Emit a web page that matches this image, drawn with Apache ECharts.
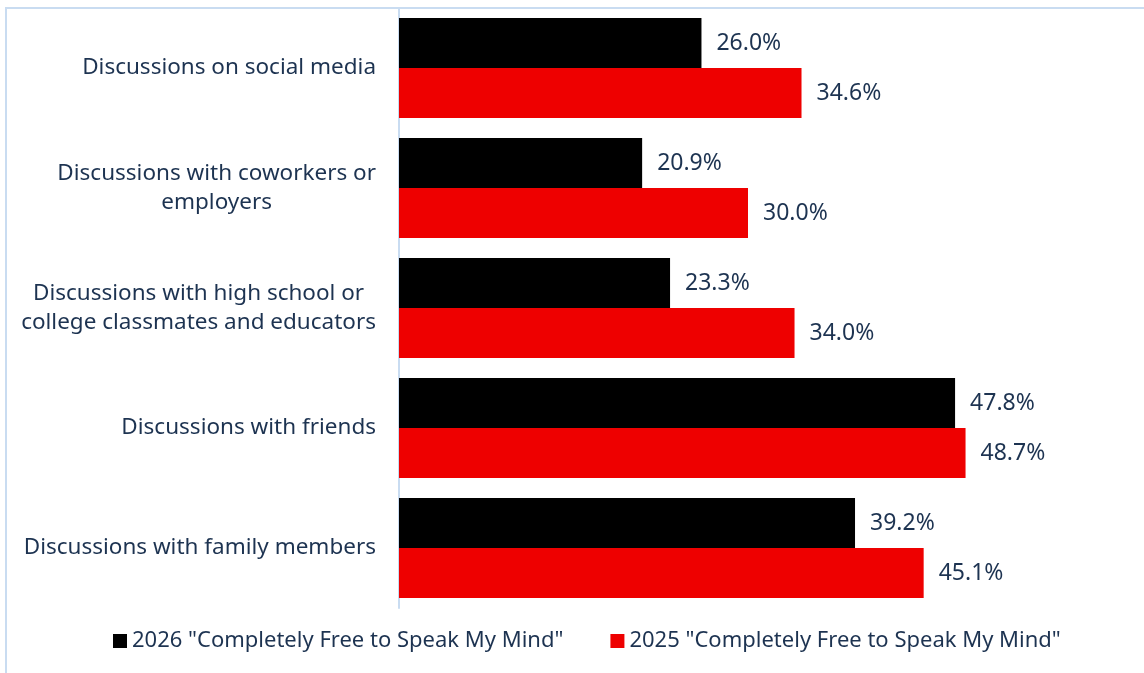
<!DOCTYPE html>
<html>
<head>
<meta charset="utf-8">
<title>Completely Free to Speak My Mind</title>
<script src="https://cdn.jsdelivr.net/npm/echarts@6/dist/echarts.min.js"></script>
<style>
  html, body { margin: 0; padding: 0; background: #ffffff; }
  #chart { width: 1144px; height: 673px; }
</style>
</head>
<body>
<div id="chart"></div>
<script>
// Settings where people feel completely free to speak their mind (percent)
const categories = [
  'Discussions on social media',
  'Discussions with coworkers or\nemployers',
  'Discussions with high school or\ncollege classmates and educators',
  'Discussions with friends',
  'Discussions with family members'
];
const seriesNames = [
  '2026 "Completely Free to Speak My Mind"',
  '2025 "Completely Free to Speak My Mind"'
];
const values2026 = [26.0, 20.9, 23.3, 47.8, 39.2];
const values2025 = [34.6, 30.0, 34.0, 48.7, 45.1];

const textColor = '#1d3351';
const fontFamily = '"Noto Sans", "Open Sans", sans-serif';

const chart = echarts.init(document.getElementById('chart'), null, { renderer: 'canvas' });

function barSeries(name, data, color) {
  return {
    name: name,
    type: 'bar',
    data: data,
    barWidth: 50,
    barGap: '0%',
    itemStyle: { color: color },
    label: {
      show: true,
      position: 'right',
      distance: 15,
      color: textColor,
      fontFamily: fontFamily,
      fontSize: 23,
      formatter: p => p.value.toFixed(1) + '%'
    }
  };
}

chart.setOption({
  animation: false,
  backgroundColor: '#ffffff',
  textStyle: { fontFamily: fontFamily },
  graphic: [{
    type: 'rect',
    silent: true,
    shape: { x: 6, y: 8, width: 1400, height: 900 },
    style: { fill: 'none', stroke: '#c9dcf1', lineWidth: 2 }
  }],
  grid: { left: 399, right: 47, top: 8, bottom: 65, containLabel: false },
  legend: {
    data: seriesNames,
    left: 113,
    top: 630,
    padding: 0,
    icon: 'rect',
    itemWidth: 14,
    itemHeight: 14,
    itemGap: 47,
    textStyle: { color: textColor, fontSize: 22, fontFamily: fontFamily }
  },
  xAxis: {
    type: 'value',
    min: 0,
    max: 60,
    show: false
  },
  yAxis: {
    type: 'category',
    inverse: true,
    data: categories,
    axisLine: { show: true, lineStyle: { color: '#c9dcf1', width: 2 } },
    axisTick: { show: false },
    axisLabel: {
      margin: 23,
      align: 'right',
      color: textColor,
      fontSize: 22.5,
      fontFamily: fontFamily,
      lineHeight: 29,
      formatter: v => v.split('\n').map(s => '{c|' + s + '}').join('\n'),
      rich: {
        c: { align: 'center', color: textColor, fontSize: 22.5, fontFamily: fontFamily, lineHeight: 29 }
      }
    },
    splitLine: { show: false }
  },
  series: [
    barSeries(seriesNames[0], values2026, '#000000'),
    barSeries(seriesNames[1], values2025, '#ee0000')
  ]
});
</script>
</body>
</html>
